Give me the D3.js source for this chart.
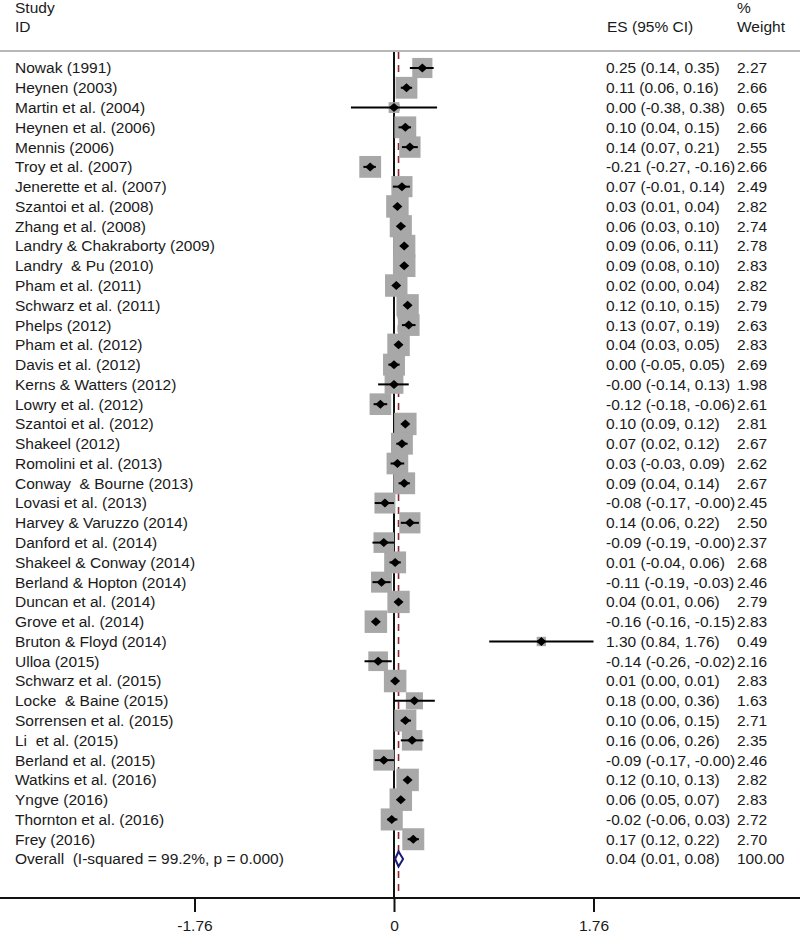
<!DOCTYPE html>
<html>
<head>
<meta charset="utf-8">
<script src="https://cdn.jsdelivr.net/npm/d3@7"></script>
<style>
  html, body { margin: 0; padding: 0; background: #fff; }
  svg { display: block; }
  text { font-family: "Liberation Sans", Arial, sans-serif; font-size: 15.5px; fill: #1a1a1a; white-space: pre; }
</style>
</head>
<body>
<svg id="chart" width="800" height="935"></svg>
<script>
const studies = [
  "Nowak (1991)", "Heynen (2003)", "Martin et al. (2004)", "Heynen et al. (2006)",
  "Mennis (2006)", "Troy et al. (2007)", "Jenerette et al. (2007)", "Szantoi et al. (2008)",
  "Zhang et al. (2008)", "Landry & Chakraborty (2009)", "Landry  & Pu (2010)", "Pham et al. (2011)",
  "Schwarz et al. (2011)", "Phelps (2012)", "Pham et al. (2012)", "Davis et al. (2012)",
  "Kerns & Watters (2012)", "Lowry et al. (2012)", "Szantoi et al. (2012)", "Shakeel (2012)",
  "Romolini et al. (2013)", "Conway  & Bourne (2013)", "Lovasi et al. (2013)", "Harvey & Varuzzo (2014)",
  "Danford et al. (2014)", "Shakeel & Conway (2014)", "Berland & Hopton (2014)", "Duncan et al. (2014)",
  "Grove et al. (2014)", "Bruton & Floyd (2014)", "Ulloa (2015)", "Schwarz et al. (2015)",
  "Locke  & Baine (2015)", "Sorrensen et al. (2015)", "Li  et al. (2015)", "Berland et al. (2015)",
  "Watkins et al. (2016)", "Yngve (2016)", "Thornton et al. (2016)", "Frey (2016)"
];
const es = [0.25, 0.11, 0.00, 0.10, 0.14, -0.21, 0.07, 0.03, 0.06, 0.09, 0.09, 0.02, 0.12, 0.13, 0.04, 0.00,
  -0, -0.12, 0.10, 0.07, 0.03, 0.09, -0.08, 0.14, -0.09, 0.01, -0.11, 0.04, -0.16, 1.30, -0.14, 0.01,
  0.18, 0.10, 0.16, -0.09, 0.12, 0.06, -0.02, 0.17];
const ciLow = [0.14, 0.06, -0.38, 0.04, 0.07, -0.27, -0.01, 0.01, 0.03, 0.06, 0.08, 0.00, 0.10, 0.07, 0.03, -0.05,
  -0.14, -0.18, 0.09, 0.02, -0.03, 0.04, -0.17, 0.06, -0.19, -0.04, -0.19, 0.01, -0.16, 0.84, -0.26, 0.00,
  0.00, 0.06, 0.06, -0.17, 0.10, 0.05, -0.06, 0.12];
const ciHigh = [0.35, 0.16, 0.38, 0.15, 0.21, -0.16, 0.14, 0.04, 0.10, 0.11, 0.10, 0.04, 0.15, 0.19, 0.05, 0.05,
  0.13, -0.06, 0.12, 0.12, 0.09, 0.14, -0, 0.22, -0, 0.06, -0.03, 0.06, -0.15, 1.76, -0.02, 0.01,
  0.36, 0.15, 0.26, -0, 0.13, 0.07, 0.03, 0.22];
const weights = [2.27, 2.66, 0.65, 2.66, 2.55, 2.66, 2.49, 2.82, 2.74, 2.78, 2.83, 2.82, 2.79, 2.63, 2.83, 2.69,
  1.98, 2.61, 2.81, 2.67, 2.62, 2.67, 2.45, 2.50, 2.37, 2.68, 2.46, 2.79, 2.83, 0.49, 2.16, 2.83,
  1.63, 2.71, 2.35, 2.46, 2.82, 2.83, 2.72, 2.70];
const overallLabel = "Overall  (I-squared = 99.2%, p = 0.000)";
const overall = { es: 0.04, lo: 0.01, hi: 0.08, weight: "100.00" };
const tickValues = [-1.76, 0, 1.76];
const tickLabels = ["-1.76", "0", "1.76"];

const fmt = v => ((v < 0 || Object.is(v, -0)) ? "-" : "") + Math.abs(v).toFixed(2);
const rows = studies.map((s, i) => ({ study: s, es: es[i], lo: ciLow[i], hi: ciHigh[i], w: weights[i] }));

const svg = d3.select("#chart");
const W = 800;
const x = d3.scaleLinear().domain([-1.76, 1.76]).range([194.5, 593.5]);
const y = d3.scalePoint().domain(d3.range(rows.length + 1)).range([68, 859]);
const side = d3.scaleSqrt().domain([0, 2.83]).range([0, 22.5]);
const axisY = 898, topY = 51;

// header
svg.append("text").attr("x", 15).attr("y", 8).attr("dy", "0.35em").text("Study");
svg.append("text").attr("x", 15).attr("y", 27).attr("dy", "0.35em").text("ID");
svg.append("text").attr("x", 607).attr("y", 27).attr("dy", "0.35em").text("ES (95% CI)");
svg.append("text").attr("x", 737).attr("y", 8).attr("dy", "0.35em").text("%");
svg.append("text").attr("x", 737).attr("y", 27).attr("dy", "0.35em").text("Weight");
svg.append("line").attr("x1", 0).attr("x2", W).attr("y1", topY).attr("y2", topY)
  .attr("stroke", "#a0a0a0").attr("stroke-width", 1.5);

// reference lines
svg.append("line").attr("x1", x(0)).attr("x2", x(0)).attr("y1", topY + 1).attr("y2", axisY)
  .attr("stroke", "#111").attr("stroke-width", 2);
svg.append("line").attr("x1", x(overall.es)).attr("x2", x(overall.es)).attr("y1", topY + 1).attr("y2", axisY)
  .attr("stroke", "#8a2a36").attr("stroke-width", 1.6).attr("stroke-dasharray", "7,6");

// boxes
svg.append("g").selectAll("rect").data(rows).join("rect")
  .attr("x", d => x(d.es) - side(d.w) / 2)
  .attr("y", (d, i) => y(i) - side(d.w) / 2)
  .attr("width", d => side(d.w)).attr("height", d => side(d.w))
  .attr("fill", "#a8a8a8");

// CI lines
svg.append("g").selectAll("line").data(rows).join("line")
  .attr("x1", d => x(d.lo)).attr("x2", d => x(d.hi))
  .attr("y1", (d, i) => y(i)).attr("y2", (d, i) => y(i))
  .attr("stroke", "#000").attr("stroke-width", 2);

// point diamonds
svg.append("g").selectAll("path").data(rows).join("path")
  .attr("d", (d, i) => {
    const cx = x(d.es), cy = y(i);
    return `M${cx - 5},${cy}L${cx},${cy - 4.5}L${cx + 5},${cy}L${cx},${cy + 4.5}Z`;
  })
  .attr("fill", "#000");

// overall diamond
const oy = y(rows.length);
svg.append("path")
  .attr("d", `M${x(overall.lo)},${oy}L${x(overall.es)},${oy - 7.5}L${x(overall.hi)},${oy}L${x(overall.es)},${oy + 7.5}Z`)
  .attr("fill", "#fff").attr("stroke", "#1c1c78").attr("stroke-width", 2);

// labels
const g = svg.append("g");
g.selectAll("text.study").data(rows).join("text").attr("class", "study")
  .attr("x", 15).attr("y", (d, i) => y(i)).attr("dy", "0.35em").text(d => d.study);
g.selectAll("text.es").data(rows).join("text").attr("class", "es")
  .attr("x", 606).attr("y", (d, i) => y(i)).attr("dy", "0.35em")
  .text(d => `${fmt(d.es)} (${fmt(d.lo)}, ${fmt(d.hi)})`);
g.selectAll("text.wt").data(rows).join("text").attr("class", "wt")
  .attr("x", 737).attr("y", (d, i) => y(i)).attr("dy", "0.35em").text(d => d.w.toFixed(2));
g.append("text").attr("x", 15).attr("y", oy).attr("dy", "0.35em").text(overallLabel);
g.append("text").attr("x", 606).attr("y", oy).attr("dy", "0.35em")
  .text(`${fmt(overall.es)} (${fmt(overall.lo)}, ${fmt(overall.hi)})`);
g.append("text").attr("x", 737).attr("y", oy).attr("dy", "0.35em").text(overall.weight);

// axis
svg.append("line").attr("x1", 0).attr("x2", W).attr("y1", axisY).attr("y2", axisY)
  .attr("stroke", "#111").attr("stroke-width", 2);
const axis = d3.axisBottom(x).tickValues(tickValues).tickSize(14).tickPadding(8)
  .tickFormat((d, i) => tickLabels[i]);
const ag = svg.append("g").attr("transform", `translate(0,${axisY})`).call(axis);
ag.select(".domain").remove();
ag.selectAll(".tick line").attr("stroke", "#111").attr("stroke-width", 2);
ag.selectAll(".tick text").attr("font-family", "Liberation Sans, Arial, sans-serif")
  .attr("font-size", "15.5px").attr("fill", "#1a1a1a").style("white-space", "pre");
</script>
</body>
</html>
